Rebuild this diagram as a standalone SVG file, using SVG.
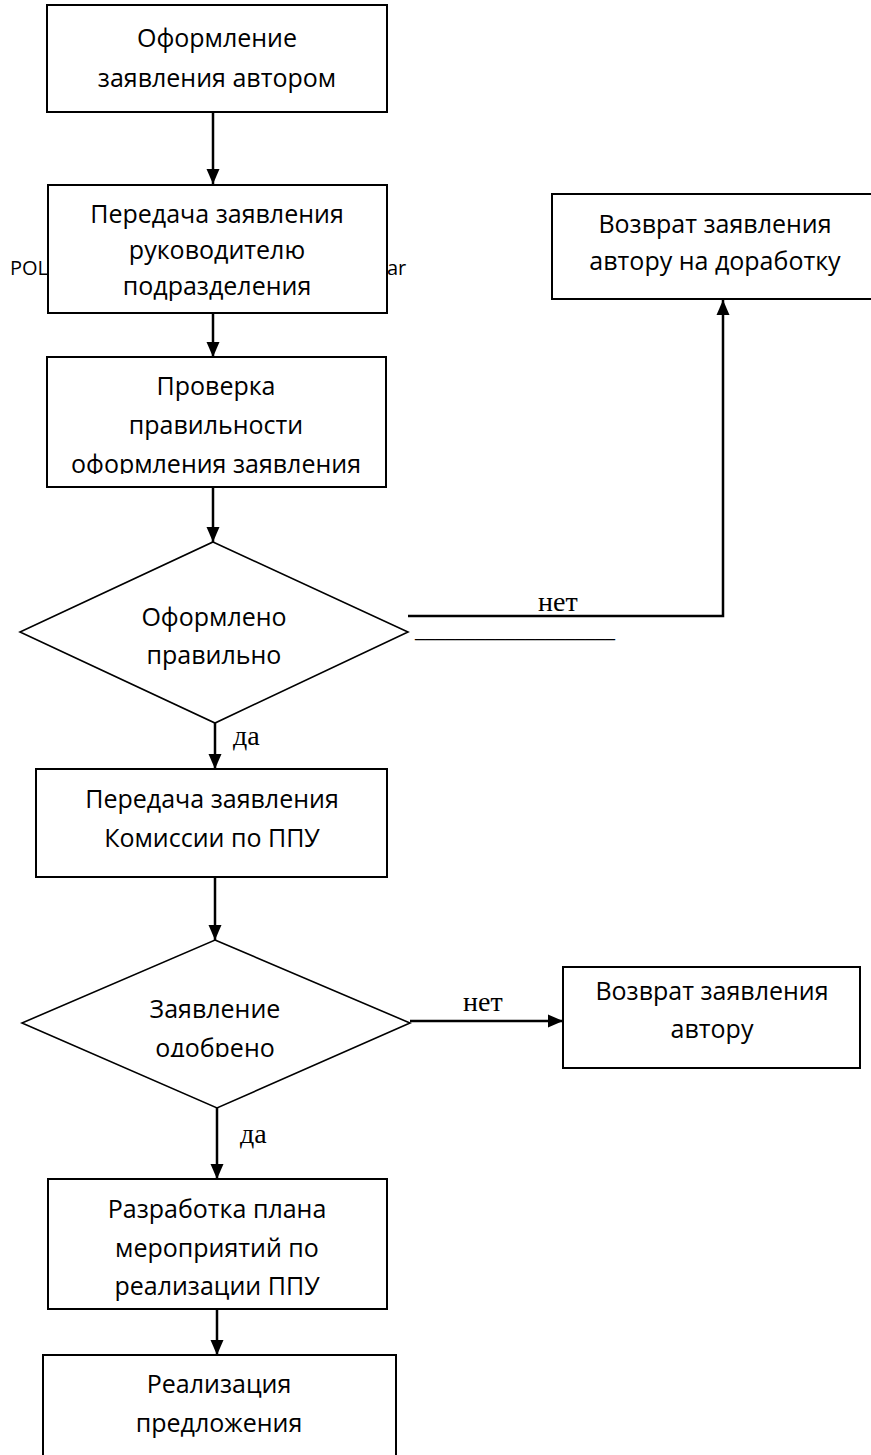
<svg xmlns="http://www.w3.org/2000/svg" width="871" height="1455" viewBox="0 0 871 1455">
<style>
.box{fill:#fff;stroke:#000;stroke-width:2}
.dia{fill:#fff;stroke:#000;stroke-width:1.6}
.t{font-family:"Open Sans","Noto Sans",sans-serif;font-size:25px;fill:#000;text-anchor:middle}
.s{font-family:"Liberation Serif",serif;font-size:28px;fill:#000}
.u{font-family:"Liberation Serif",serif;font-size:20px;fill:#000}
.c{fill:none;stroke:#000;stroke-width:2.5}
.pol{font-family:"Open Sans","Noto Sans",sans-serif;font-size:20px;fill:#000}
</style>
<defs>
<marker id="ah" markerUnits="userSpaceOnUse" markerWidth="16" markerHeight="16" viewBox="0 0 16 16" refX="15" refY="8" orient="auto">
<path d="M0,1.5 L15,8 L0,14.5 Z" fill="#000"/>
</marker>
<clipPath id="clip3"><rect x="0" y="340" width="440" height="134"/></clipPath>
<clipPath id="clipd2"><rect x="0" y="960" width="440" height="97"/></clipPath>
</defs>
<rect width="871" height="1455" fill="#fff"/>

<g id="stray">
<text class="pol" x="10" y="275">POL</text>
<text class="pol" x="387" y="275">ar</text>
</g>

<g id="connectors">
<line class="c" x1="213" y1="112" x2="213" y2="184" marker-end="url(#ah)"/>
<line class="c" x1="213" y1="313" x2="213" y2="357" marker-end="url(#ah)"/>
<line class="c" x1="213" y1="487" x2="213" y2="542" marker-end="url(#ah)"/>
<line class="c" x1="215" y1="723" x2="215" y2="769" marker-end="url(#ah)"/>
<line class="c" x1="215" y1="877" x2="215" y2="940" marker-end="url(#ah)"/>
<line class="c" x1="217" y1="1108" x2="217" y2="1179" marker-end="url(#ah)"/>
<line class="c" x1="217" y1="1309" x2="217" y2="1355" marker-end="url(#ah)"/>
<polyline class="c" points="408,616 723,616 723,300" marker-end="url(#ah)"/>
<line class="c" x1="410" y1="1021" x2="563" y2="1021" marker-end="url(#ah)"/>
<text class="s" x="538" y="611">нет</text>
<text class="u" x="415" y="637">____________________</text>
<text class="s" x="233" y="745">да</text>
<text class="s" x="463" y="1011">нет</text>
<text class="s" x="240" y="1143">да</text>
</g>

<g id="n1">
<rect class="box" x="47" y="5" width="340" height="107"/>
<text class="t" x="217" y="47">Оформление</text>
<text class="t" x="217" y="87">заявления автором</text>
</g>

<g id="n2">
<rect class="box" x="48" y="185" width="339" height="128"/>
<text class="t" x="217" y="223">Передача заявления</text>
<text class="t" x="217" y="259">руководителю</text>
<text class="t" x="217" y="295">подразделения</text>
</g>

<g id="n3">
<rect class="box" x="47" y="357" width="339" height="130"/>
<text class="t" x="216" y="395">Проверка</text>
<text class="t" x="216" y="434">правильности</text>
<text class="t" x="216" y="473" clip-path="url(#clip3)">оформления заявления</text>
</g>

<g id="d1">
<polygon class="dia" points="213,542 408,632 215,723 20,632"/>
<text class="t" x="214" y="626">Оформлено</text>
<text class="t" x="214" y="664">правильно</text>
</g>

<g id="n_return1">
<rect class="box" x="552" y="194" width="326" height="105"/>
<text class="t" x="715" y="233">Возврат заявления</text>
<text class="t" x="715" y="270">автору на доработку</text>
</g>

<g id="n4">
<rect class="box" x="36" y="769" width="351" height="108"/>
<text class="t" x="212" y="808">Передача заявления</text>
<text class="t" x="212" y="847">Комиссии по ППУ</text>
</g>

<g id="d2">
<polygon class="dia" points="215,940 410,1023 217,1108 22,1023"/>
<text class="t" x="215" y="1018">Заявление</text>
<text class="t" x="215" y="1057" clip-path="url(#clipd2)">одобрено</text>
</g>

<g id="n_return2">
<rect class="box" x="563" y="967" width="297" height="101"/>
<text class="t" x="712" y="1000">Возврат заявления</text>
<text class="t" x="712" y="1038">автору</text>
</g>

<g id="n5">
<rect class="box" x="48" y="1179" width="339" height="130"/>
<text class="t" x="217" y="1218">Разработка плана</text>
<text class="t" x="217" y="1257">мероприятий по</text>
<text class="t" x="217" y="1295">реализации ППУ</text>
</g>

<g id="n6">
<rect class="box" x="43" y="1355" width="353" height="110"/>
<text class="t" x="219" y="1393">Реализация</text>
<text class="t" x="219" y="1432">предложения</text>
</g>
</svg>
